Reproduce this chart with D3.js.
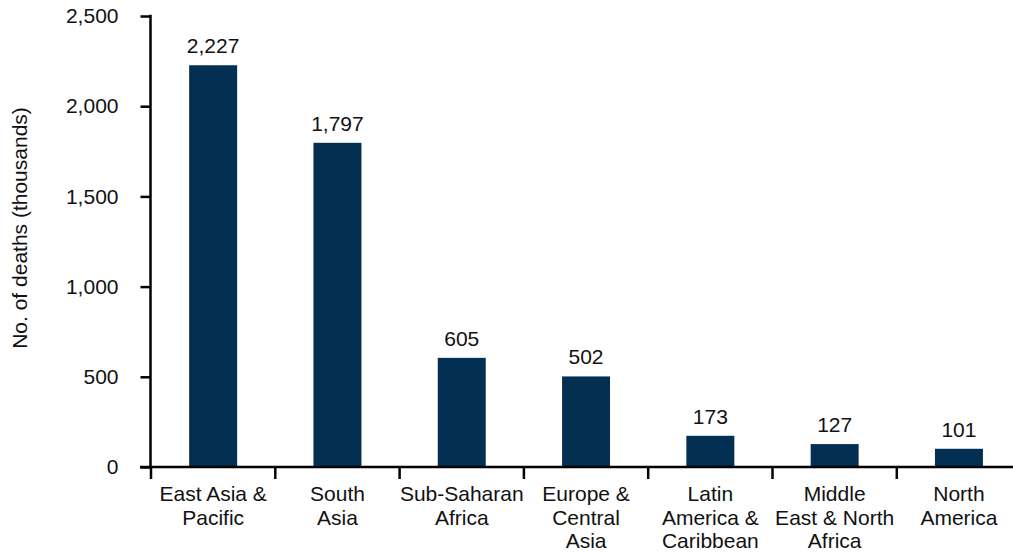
<!DOCTYPE html>
<html>
<head>
<meta charset="utf-8">
<script src="https://cdn.jsdelivr.net/npm/d3@7/dist/d3.min.js"></script>
<style>
  html, body { margin: 0; padding: 0; background: #fff; }
  svg { display: block; }
  text { font-family: "Liberation Sans", Arial, Helvetica, sans-serif; fill: #111; }
</style>
</head>
<body>
<svg id="chart" width="1013" height="556"></svg>
<script>
// Deaths by region (thousands)
const regions = [
  "East Asia & Pacific",
  "South Asia",
  "Sub-Saharan Africa",
  "Europe & Central Asia",
  "Latin America & Caribbean",
  "Middle East & North Africa",
  "North America"
];
const regionLabelLines = [
  ["East Asia &", "Pacific"],
  ["South", "Asia"],
  ["Sub-Saharan", "Africa"],
  ["Europe &", "Central", "Asia"],
  ["Latin", "America &", "Caribbean"],
  ["Middle", "East & North", "Africa"],
  ["North", "America"]
];
const deaths = [2227, 1797, 605, 502, 173, 127, 101];
const yTicks = [0, 500, 1000, 1500, 2000, 2500];
const yTitle = "No. of deaths (thousands)";

const svg = d3.select("#chart");
const barColor = "#032f52";
const axisColor = "#000";
const fontSize = 21;

const plotLeft = 151, plotBottom = 467, plotTop = 16, bandStep = 124.3;

const y = d3.scaleLinear().domain([0, 2500]).range([plotBottom, plotTop]);
const x = d3.scaleBand()
  .domain(regions)
  .range([plotLeft, plotLeft + bandStep * regions.length])
  .paddingInner(0.614)
  .paddingOuter(0.307);

const fmt = d3.format(",");

// Bars
svg.append("g").selectAll("rect")
  .data(regions)
  .join("rect")
  .attr("x", d => x(d))
  .attr("width", x.bandwidth())
  .attr("y", (d, i) => y(deaths[i]))
  .attr("height", (d, i) => y(0) - y(deaths[i]))
  .attr("fill", barColor);

// Value labels
svg.append("g").selectAll("text")
  .data(regions)
  .join("text")
  .attr("x", d => x(d) + x.bandwidth() / 2)
  .attr("y", (d, i) => y(deaths[i]) - 12)
  .attr("text-anchor", "middle")
  .style("font-size", fontSize + "px")
  .text((d, i) => fmt(deaths[i]));

// Y axis
const yAxis = svg.append("g")
  .attr("transform", `translate(${plotLeft - 0.5},0)`)
  .call(d3.axisLeft(y).tickValues(yTicks).tickFormat(fmt).tickSize(10).tickPadding(22));
yAxis.select(".domain").remove();
yAxis.selectAll(".tick line").attr("stroke", axisColor).attr("stroke-width", 2.5);
yAxis.selectAll(".tick text")
  .style("font-size", fontSize + "px")
  .style("font-family", "'Liberation Sans', Arial, Helvetica, sans-serif")
  .attr("fill", "#111");
yAxis.append("line")
  .attr("x1", 0).attr("x2", 0)
  .attr("y1", y(2500) - 1.25).attr("y2", y(0))
  .attr("stroke", axisColor).attr("stroke-width", 2.5);

// X axis line, boundary ticks and wrapped category labels
const xAxis = svg.append("g");
xAxis.append("line")
  .attr("x1", plotLeft - 11).attr("x2", 1013)
  .attr("y1", plotBottom).attr("y2", plotBottom)
  .attr("stroke", axisColor).attr("stroke-width", 2.5);

const half = x.step() * x.paddingInner() / 2;
const boundaries = regions.map(d => x(d) - half);
xAxis.selectAll("line.tick")
  .data(boundaries)
  .join("line")
  .attr("class", "tick")
  .attr("x1", d => d).attr("x2", d => d)
  .attr("y1", plotBottom).attr("y2", plotBottom + 12)
  .attr("stroke", axisColor).attr("stroke-width", 2.5);

const labels = xAxis.selectAll("text.cat")
  .data(regions)
  .join("text")
  .attr("class", "cat")
  .attr("text-anchor", "middle")
  .style("font-size", fontSize + "px")
  .attr("transform", d => `translate(${x(d) + x.bandwidth() / 2},${plotBottom + 34})`);
labels.selectAll("tspan")
  .data((d, i) => regionLabelLines[i])
  .join("tspan")
  .attr("x", 0)
  .attr("y", (d, j) => j * 23.5)
  .text(d => d);

// Y axis title
svg.append("text")
  .attr("transform", "translate(27,228) rotate(-90)")
  .attr("text-anchor", "middle")
  .style("font-size", fontSize + "px")
  .text(yTitle);
</script>
</body>
</html>
